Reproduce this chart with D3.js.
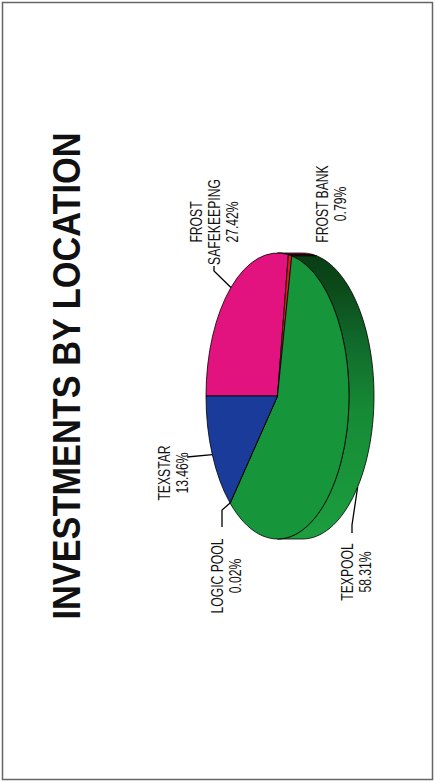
<!DOCTYPE html>
<html>
<head>
<meta charset="utf-8">
<script src="https://cdn.jsdelivr.net/npm/d3@7"></script>
<style>
  body { margin: 0; background: #fff; }
  text { font-family: "Liberation Sans", Arial, sans-serif; fill: #111; }
</style>
</head>
<body>
<svg id="chart" width="435" height="782"></svg>
<script>
// data
const locations = ["FROST SAFEKEEPING", "FROST BANK", "TEXPOOL", "LOGIC POOL", "TEXSTAR"]
const shares = [27.42, 0.79, 58.31, 0.02, 13.46]
const labelLines = [["FROST", "SAFEKEEPING"], ["FROST BANK"], ["TEXPOOL"], ["LOGIC POOL"], ["TEXSTAR"]]
const title = "INVESTMENTS BY LOCATION"

const topColors = ["#e2137e", "#e01a1a", "#17953b", "#e8d820", "#1b3b9b"]
const sideColors = ["#8e0c50", "#8a1010", "url(#sideGrad)", "#9a8a10", "#10245e"]

// the chart is laid out landscape (782 x 435) then turned a quarter to the left
const cx = 386, cy = 277.5, rx = 143, ry = 71.5, depth = 25

// label placement: centre along the text, first baseline, leader start points, where on the slice the leader lands
const labelPos = [
  { u: 560, v: 202, lead: [[516, 214], [511, 214]], frac: 0.5, z: 0 },
  { u: 578, v: 328, lead: null },
  { u: 210, v: 353, lead: [[249, 352], [257, 352]], frac: 0.562, z: 1 },
  { u: 206, v: 223, lead: [[255, 222], [272, 222]], frac: 0.5, z: 0 },
  { u: 309, v: 170, lead: [[325, 187]], frac: 0.5, z: 0 }
]

const svg = d3.select("#chart")

svg.append("rect")
  .attr("x", 2.5).attr("y", 2.5)
  .attr("width", 430).attr("height", 777)
  .attr("fill", "none")
  .attr("stroke", "#666")
  .attr("stroke-width", 1.5)

const g = svg.append("g").attr("transform", "translate(0,782) rotate(-90)")

const defs = svg.append("defs")
const grad = defs.append("linearGradient")
  .attr("id", "sideGrad")
  .attr("gradientUnits", "userSpaceOnUse")
  .attr("x1", cx - rx).attr("x2", cx + rx)
  .attr("y1", 0).attr("y2", 0)
grad.selectAll("stop")
  .data([[0, "#1c9e3f"], [0.45, "#168a35"], [0.7, "#10682a"], [0.88, "#0b4a1a"], [1, "#093c14"]])
  .enter().append("stop")
  .attr("offset", d => d[0])
  .attr("stop-color", d => d[1])

// title
g.append("text")
  .attr("x", 406)
  .attr("y", 80)
  .attr("text-anchor", "middle")
  .attr("textLength", 487)
  .attr("lengthAdjust", "spacingAndGlyphs")
  .style("font-family", "'Liberation Sans Narrow', 'Arial Narrow', 'Liberation Sans', Arial, sans-serif")
  .style("font-weight", "bold")
  .style("font-size", "38px")
  .text(title)

const pie = d3.pie().sort(null).startAngle(0).endAngle(2 * Math.PI)
const slices = pie(shares)

const pt = (a, z) => [cx + rx * Math.sin(a), cy - ry * Math.cos(a) + z * depth]

function sidePath(a0, a1) {
  const s = Math.max(a0, Math.PI / 2), e = Math.min(a1, 3 * Math.PI / 2)
  if (e <= s) return null
  const n = 60
  const top = d3.range(n + 1).map(i => pt(s + (e - s) * i / n, 0))
  const bot = top.slice().reverse().map(p => [p[0], p[1] + depth])
  return d3.line()(top.concat(bot)) + "Z"
}

// sides
g.append("g")
  .selectAll("path")
  .data(slices.filter(d => sidePath(d.startAngle, d.endAngle)))
  .enter().append("path")
  .attr("d", d => sidePath(d.startAngle, d.endAngle))
  .attr("fill", d => sideColors[d.index])
  .attr("stroke", "#000")
  .attr("stroke-width", 0.8)
  .attr("stroke-linejoin", "round")

// top faces
const arc = d3.arc().innerRadius(0).outerRadius(rx)
g.append("g")
  .attr("transform", `translate(${cx},${cy}) scale(1,${ry / rx})`)
  .selectAll("path")
  .data(slices)
  .enter().append("path")
  .attr("d", arc)
  .attr("fill", d => topColors[d.index])
  .attr("stroke", "#000")
  .attr("stroke-width", 0.8)
  .attr("vector-effect", "non-scaling-stroke")

// leaders
slices.forEach((d, i) => {
  const lp = labelPos[i]
  if (!lp.lead) return
  const a = d.startAngle + (d.endAngle - d.startAngle) * lp.frac
  const pts = lp.lead.concat([pt(a, lp.z)])
  g.append("path")
    .attr("d", d3.line()(pts))
    .attr("fill", "none")
    .attr("stroke", "#000")
    .attr("stroke-width", 1.3)
})

// labels (narrow face, squeezed width)
const fmt = d3.format(".2f")
slices.forEach((d, i) => {
  const lp = labelPos[i]
  const lines = labelLines[i].concat([fmt(shares[i]) + "%"])
  lines.forEach((s, k) => {
    const t = g.append("text")
      .attr("text-anchor", "middle")
      .attr("x", lp.u)
      .attr("y", lp.v + k * 18)
      .style("font-size", "16px")
      .text(s)
    const w = t.node().getComputedTextLength()
    t.attr("textLength", w * 0.76).attr("lengthAdjust", "spacingAndGlyphs")
  })
})
</script>
</body>
</html>
